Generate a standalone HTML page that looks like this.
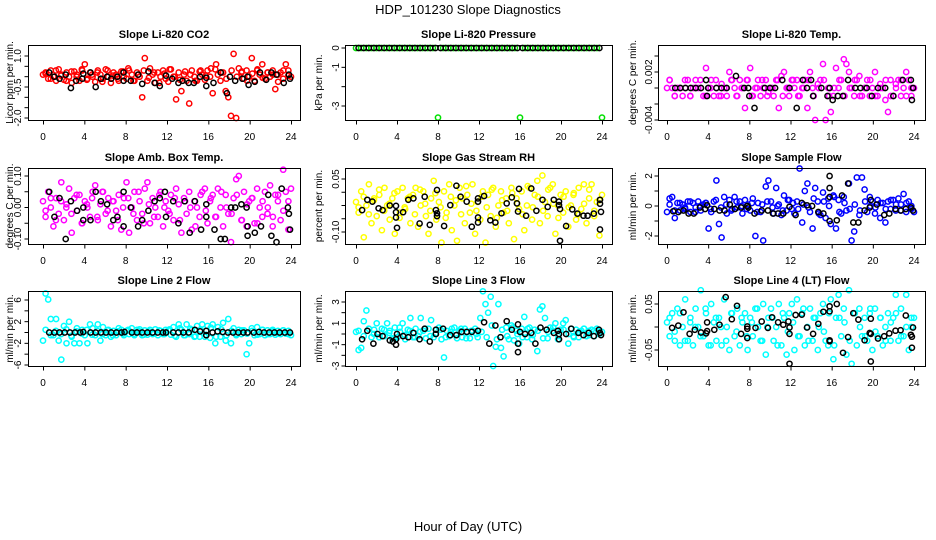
<!DOCTYPE html>
<html><head><meta charset="utf-8"><title>HDP_101230 Slope Diagnostics</title>
<style>
html,body{margin:0;padding:0;background:#fff;}
svg{display:block;font-family:"Liberation Sans",sans-serif;}
</style></head>
<body>
<svg id="chart" width="936" height="540" viewBox="0 0 936 540" xmlns="http://www.w3.org/2000/svg">
<rect x="0" y="0" width="936" height="540" fill="#fff"/>
<text x="468" y="14" text-anchor="middle" font-size="13">HDP_101230  Slope Diagnostics</text>
<text x="468" y="531" text-anchor="middle" font-size="13">Hour of Day (UTC)</text>
</svg>
<script>
// ---------- data ----------
const xTicks = [0,4,8,12,16,20,24];
const xTickLabels = ["0","4","8","12","16","20","24"];

// Panel 1: Li-820 CO2
const co2Vals = [0.1,0.2,-0.1,0.3,0.0,-0.2,0.35,0.1,-0.15,0.2,0.0,-0.3,0.25,0.1,-0.2,0.3,0.6,-0.1,0.2,0.0,-0.25,0.3,0.1,-0.1,0.35,0.0,-0.3,0.2,0.1,-0.2,0.25,0.0,-0.1,0.3,0.1,-0.2,0.2,0.0,-1.0,0.9,-0.2,0.4,0.1,-0.3,0.2,0.0,0.3,-0.1,-0.25,0.35,0.0,-1.1,0.2,-0.7,0.1,-0.2,-1.3,0.3,0.0,-0.2,0.25,0.1,-0.15,0.3,0.0,-0.8,0.35,0.1,-0.2,0.2,-0.7,-1.0,-1.9,1.1,-2.0,0.4,0.2,-0.1,0.3,0.0,0.9,-0.2,0.3,0.1,0.6,-0.1,0.2,0.0,0.3,-0.6,0.1,0.2,-0.1,0.6,0.3,0.0];
const co2Extra = [0.15,-0.1,0.3,0.05,-0.2,0.25,0.0,0.35,-0.15,0.1,0.2,-0.25,0.3,0.05,-0.1,0.25,0.4,-0.2,0.1,0.3,-0.05,0.2,-0.3,0.15,0.35,0.0,-0.15,0.25,0.1,-0.2,0.3,0.05,0.4,0.6,0.2,-0.1,0.3,0.0,0.25,-0.2,0.15,0.35,-0.05,0.2,0.1,-0.25,0.3,0.05];
const co2BlackX = [0.6,1.1,1.6,2.2,2.7,3.2,3.8,3.9,4.6,5.1,5.6,6.2,6.6,7.2,7.8,7.8,8.5,9.2,9.6,10.2,10.8,11.3,11.9,12.5,13.1,13.5,14.1,14.6,15.2,15.8,15.8,16.5,17.2,17.8,18.1,18.6,19.3,19.8,19.9,20.5,21.0,21.6,22.1,22.6,23.3,23.8,23.9];
const co2BlackY = [0.2,0,-0.1,0.1,-0.55,-0.2,-0.1,0.15,0.2,-0.5,-0.1,0.0,-0.1,0.0,0.2,-0.2,-0.2,0.1,-0.35,0.25,-0.3,-0.45,0.05,-0.1,-0.3,-0.2,-0.3,-0.3,0.0,-0.05,-0.45,-0.3,0.2,-0.8,0.0,-0.2,-0.1,0,-0.4,-0.25,0.2,-0.15,0.2,0.1,-0.3,0.1,-0.1];

// Panel 2: Li-820 Pressure
const presVals = [0,0,0,0,0,0,0,0,0,0,0,0,0,0,0,0,-3.6,0,0,0,0,0,0,0,0,0,0,0,0,0,0,0,-3.6,0,0,0,0,0,0,0,0,0,0,0,0,0,0,0,-3.6];
const presBlackVals = [0,0,0,0,0,0,0,0,0,0,0,0,0,0,0,0,0,0,0,0,0,0,0,0,0,0,0,0,0,0,0,0,0,0,0,0,0,0,0,0,0,0,0,0,0,0,0,0];

// Panel 3: Li-820 Temp
const tempVals = [0,0.001,0,-0.001,0,0,-0.001,0,0.001,-0.001,0,0.001,0,0,-0.001,0.0025,0,0.001,-0.001,0,-0.001,0.0005,0,-0.001,0.002,0.001,0,-0.001,0.001,0,-0.0025,0.001,0.0025,-0.001,0,0.001,-0.001,0,0.001,-0.0005,0,-0.001,0.001,-0.0025,0.0015,0.002,0,-0.001,0.001,0,0.001,-0.001,0,0.001,-0.0025,0.002,0,-0.004,0.0005,0.001,0.003,-0.004,0,-0.003,-0.001,0.0025,0,0.001,0.0036,0.003,0.002,0,-0.001,0.001,0.0015,-0.001,0,0.001,-0.001,0,0.002,-0.001,0.0005,0,-0.0015,-0.003,0.001,-0.001,0.0005,0.001,-0.001,0,0.002,0.001,-0.001,0];
const tempExtra = [0.001,-0.001,0,0.001,-0.001,0,0.001,-0.001,0,0.001,-0.001,0,0.001,-0.001,0,0.001,-0.001,0,0.001,-0.001,0,0.001,-0.001,0,0.001,-0.001,0,0.001,-0.001,0,0.001,-0.001,0,0.001,-0.001,0,0.001,-0.001,0,0.001,-0.001,0,0.001,-0.001,0,0.001,-0.001,0];
const tempBlackX = [0.8,1.3,1.8,2.3,2.8,3.3,3.8,3.9,4.0,4.8,5.3,5.8,6.7,7.5,7.9,8.0,8.5,9.5,10.0,10.5,11.2,11.9,12.6,13.2,13.6,14.0,14.2,15.0,15.6,15.8,16.1,16.6,17.1,17.6,18.3,18.8,19.4,19.9,20.5,21.2,22.0,22.9,23.7,23.8,23.9];
const tempBlackY = [0,0,0,0,0,0,0.001,-0.001,0,0,0,0,0.0015,0,0,-0.001,-0.0025,0,0,0,0.001,0,-0.0025,0.001,0,0.001,-0.001,0,-0.001,0,-0.0015,-0.001,-0.001,0.001,0,0,0,-0.001,0,0,-0.001,0.001,0.001,-0.0015,0];

// Panel 4: Amb. Box Temp
const boxVals = [0.02,-0.03,0.05,0.0,-0.06,0.03,-0.02,0.08,-0.04,0.01,0.06,-0.08,0.03,-0.01,0.04,-0.05,0.02,0.0,-0.03,0.05,0.07,-0.04,0.01,0.05,-0.02,0.03,-0.06,0.02,-0.01,0.04,-0.07,0.03,0.08,-0.08,0.0,0.05,-0.04,0.02,-0.02,0.06,0.08,-0.05,0.03,0.0,-0.03,0.05,-0.06,0.02,-0.01,0.04,-0.04,0.06,0.01,-0.08,0.03,-0.02,0.05,-0.07,0.02,0.0,-0.03,0.05,0.06,-0.05,0.02,0.04,-0.03,0.06,0.0,-0.06,0.04,-0.02,-0.11,0.03,0.09,0.1,-0.04,0.05,-0.06,0.02,0.03,-0.05,0.06,0.0,-0.03,0.05,-0.02,0.07,-0.06,0.04,0.02,-0.04,0.12,0.05,-0.07,0.06];
const boxExtra = [-0.01,0.03,-0.04,0.02,0.0,-0.02,0.04,-0.05,0.01,0.03,-0.03,0.05,-0.01,0.02,-0.04,0.0,0.03,-0.02,0.05,-0.05,0.01,-0.03,0.04,0.0,-0.02,0.03,-0.04,0.02,0.0,-0.06,0.04,-0.01,0.03,-0.03,0.05,0.0,-0.02,0.04,-0.04,0.01,0.03,-0.05,0.02,0.0,-0.03,0.04,-0.01,0.02];
const boxBlackX = [0.6,1.1,1.6,2.2,2.7,3.3,3.9,3.9,4.6,5.1,5.6,6.2,6.8,7.2,7.8,7.8,8.5,9.2,9.6,10.2,10.8,11.3,11.8,11.9,12.6,13.1,13.7,14.2,14.7,15.3,15.8,15.8,16.6,17.2,17.6,18.2,18.6,19.2,19.7,19.8,19.8,20.5,21.1,21.8,22.1,22.6,23.1,23.7,23.8,23.9];
const boxBlackY = [0.05,-0.03,0.03,-0.1,0.02,-0.01,0.0,-0.04,-0.04,0.05,0.02,0.01,-0.04,-0.03,0.05,-0.06,0,-0.06,-0.04,-0.01,0.02,0.03,0.05,-0.03,0.02,-0.05,0.02,-0.08,0.02,-0.07,0.01,-0.03,-0.07,-0.1,-0.1,0,0,0.01,0.0,-0.06,-0.09,-0.08,-0.06,0.04,-0.09,-0.11,0.06,0.0,-0.02,-0.07];

// Panel 5: Gas Stream RH
const rhVals = [-0.015,-0.045,0.015,-0.115,-0.025,0.035,-0.075,-0.005,-0.055,0.005,-0.095,0.025,-0.025,-0.065,-0.005,-0.105,0.015,-0.045,0.025,-0.035,-0.005,-0.075,0.005,0.025,-0.085,-0.025,0.015,-0.055,-0.105,-0.005,0.045,-0.065,-0.015,-0.13,0.015,-0.045,0.035,-0.095,-0.025,-0.125,0.025,-0.005,-0.075,0.005,-0.045,0.035,-0.105,-0.015,-0.065,0.015,-0.13,0.005,-0.055,0.025,-0.085,-0.025,0.015,-0.045,-0.005,-0.075,0.025,-0.12,-0.005,-0.035,0.015,-0.095,-0.025,0.025,-0.065,0.005,0.045,-0.075,0.06,-0.015,-0.055,0.025,0.035,-0.105,-0.025,0.005,-0.045,0.015,-0.085,-0.025,0.005,-0.065,0.025,-0.035,0.035,-0.075,-0.005,0.035,-0.055,-0.015,-0.11,0.005];
const rhExtra = [-0.03,0.0,-0.05,-0.01,0.02,-0.04,-0.02,0.01,-0.06,-0.03,0.0,-0.05,0.02,-0.02,-0.04,0.01,-0.03,-0.06,0.0,-0.01,-0.05,0.03,-0.02,-0.04,0.0,-0.03,0.02,-0.06,-0.01,-0.04,0.01,-0.02,-0.05,0.03,-0.03,0.0,-0.04,0.02,-0.02,-0.06,0.0,-0.03,0.01,-0.05,-0.02,0.02,-0.04,-0.01];
const rhBlackX = [0.6,1.1,1.6,2.2,2.6,3.3,3.9,3.9,3.9,4.0,4.6,5.1,5.6,6.2,6.7,7.2,7.8,7.9,7.9,7.9,8.6,9.2,9.8,10.2,10.8,11.3,11.9,11.9,11.9,11.9,12.5,13.1,13.6,14.2,14.7,15.2,15.7,15.8,15.9,16.6,17.1,17.6,18.2,18.7,19.3,19.8,19.8,19.9,19.9,20.5,21.1,21.6,22.2,22.6,23.2,23.8,23.8,23.9,23.8];
const rhBlackY = [-0.038,-0.009,-0.014,-0.033,-0.038,-0.025,-0.026,-0.044,-0.059,-0.088,-0.044,-0.009,-0.005,-0.076,0.0,-0.08,-0.038,-0.047,-0.055,0.019,-0.083,-0.024,0.031,0.0,-0.014,-0.085,-0.005,-0.014,-0.059,-0.073,0.002,-0.067,-0.073,-0.047,-0.019,-0.002,-0.019,-0.042,0.022,-0.054,0.023,-0.04,-0.009,-0.029,-0.009,-0.014,-0.024,-0.035,-0.125,-0.083,-0.036,-0.048,-0.054,-0.054,-0.048,-0.009,-0.02,-0.043,-0.093];

// Panel 6: Sample Flow
const sampleVals = [-0.4,0.5,0.6,-0.8,0.2,-0.3,0.1,-0.2,0.3,-0.4,0.2,-0.1,0.3,-0.3,0.1,0.2,-1.5,-0.4,0.3,1.7,-1.2,-2.1,0.6,-0.5,0.4,-0.2,0.6,-0.1,0.3,-0.5,0.4,0.1,-0.3,0.5,-2.0,0.2,-0.4,-2.3,1.3,1.7,0.3,-0.5,1.2,0.1,-0.6,0.7,-0.3,0.4,-0.2,-0.5,0.3,2.5,-1.1,1.0,1.5,-0.4,-1.5,1.2,0.3,-0.6,0.9,-0.8,0.5,-1.2,0.7,-1.5,0.4,-0.5,0.6,-0.3,1.5,-2.3,-1.7,1.9,-0.6,1.9,1.1,-0.4,0.6,0.3,-0.5,0.4,-0.8,0.2,-1.1,0.3,-0.2,0.4,-0.3,0.5,0.1,0.8,-0.4,0.3,-0.2,-0.4];
const sampleExtra = [0.1,-0.3,0.2,-0.1,0.3,-0.4,0.0,0.2,-0.2,0.4,-0.1,0.1,-0.3,0.3,0.0,-0.2,0.2,-0.4,0.1,0.3,-0.1,0.0,-0.3,0.4,0.2,-0.2,0.1,-0.1,0.5,-0.5,0.3,0.0,0.6,-0.4,0.2,-0.2,0.1,-0.3,0.3,0.0,-0.1,0.2,-0.2,0.4,0.1,-0.3,0.2,0.0];
const sampleBlackX = [0.6,1.1,1.6,2.1,2.6,3.2,3.7,3.9,4.6,5.1,5.6,6.1,6.6,7.2,7.8,7.9,8.5,9.2,9.8,10.3,10.8,11.3,11.9,12.5,13.1,13.6,14.1,14.7,15.2,15.8,15.8,15.8,15.8,16.5,17.0,17.6,18.1,18.6,19.2,19.7,19.8,20.4,21.1,21.6,22.2,22.7,23.2,23.7,23.9];
const sampleBlackY = [-0.35,-0.4,-0.3,-0.5,-0.5,-0.1,-0.2,0.05,-0.2,-0.3,-0.3,0.1,-0.2,-0.1,0.0,-0.1,-0.5,-0.3,-0.3,-0.5,-0.5,-0.5,-0.05,-0.6,0.2,0.05,0.0,-0.4,-0.5,2.0,1.2,0.6,-1.0,-0.95,0.7,1.5,-1.1,-1.1,-0.3,-0.1,0.4,0.1,-0.6,-0.5,-0.2,-0.3,-0.2,-0.1,-0.3];

// Panel 7: Line 2 Flow
const line2Vals = [-1.5,7.2,6.1,2.5,-0.5,2.5,-1.5,-5.0,1.2,-2.0,2.0,-0.8,-2.0,0.8,-2.0,0.5,-0.5,-2.0,1.5,0.8,-0.5,1.5,-1.5,1.0,-0.5,0.5,-0.8,0.3,-0.5,0.8,0.5,-0.5,0.3,-0.3,0.8,-0.5,0.5,0.6,-0.5,0.4,-0.4,0.5,-0.3,0.6,-0.5,0.3,-0.3,0.5,0.4,-0.4,1.0,-0.8,1.5,0.5,-0.5,1.5,-0.3,0.5,-0.8,1.2,-0.8,1.5,-0.8,1.2,-1.0,1.5,-2.0,1.0,-0.8,1.8,-1.5,2.5,-2.0,0.8,-0.5,0.5,-0.3,0.4,-4.0,-2.0,0.8,-0.5,1.0,-0.3,0.5,-0.5,0.4,-0.3,0.5,-0.4,0.3,-0.3,0.4,-0.2,0.3,-0.5];
const line2Extra = [0.5,-0.5,0.3,-0.3,0.6,-0.6,0.2,-0.2,0.5,-0.4,0.3,-0.3,0.4,-0.5,0.2,-0.2,0.5,-0.3,0.3,-0.4,0.2,-0.2,0.4,-0.3,0.6,-0.6,0.8,-0.5,0.7,-0.7,0.5,-0.4,0.9,-0.8,0.6,-0.5,0.3,-0.3,0.4,-0.2,0.3,-0.4,0.5,-0.3,0.2,-0.2,0.4,-0.3];
const line2BlackX = [0.6,1.1,1.6,2.1,2.6,3.1,3.6,3.9,4.6,5.1,5.6,6.1,6.6,7.1,7.6,7.9,8.6,9.1,9.6,10.1,10.6,11.1,11.6,11.9,12.6,13.1,13.6,14.1,14.7,15.2,15.8,15.8,16.4,16.9,17.4,17.9,18.4,18.9,19.4,19.8,20.4,20.9,21.4,21.9,22.4,22.9,23.4,23.9];
const line2BlackY = [0,0,0,0,0,0,0,0.1,0,0,0,0,0,0,0,0.1,0,0,0,0,0,0,0,0,0,0,0,0,0.5,0.2,0.3,-0.5,0,0.2,0.1,0,0,0,0,0,0,0.1,0,0,0,0,0,0];

// Panel 8: Line 3 Flow
const line3Vals = [0.2,-1.5,-1.3,1.2,2.2,0.5,-0.3,0.4,1.0,-0.3,0.5,-0.2,1.0,0.3,-0.4,0.6,-0.3,0.2,1.0,-0.5,0.4,1.5,-0.3,0.5,-0.2,1.5,0.3,-0.4,0.5,1.3,-0.3,0.4,0.6,-0.5,-2.2,0.3,-0.2,0.5,0.6,-0.4,0.3,-0.3,0.5,0.2,-0.4,0.3,0.5,-0.3,1.5,4.0,2.8,2.0,3.5,-3.0,-1.2,2.8,-1.3,-2.1,0.6,-0.5,0.8,-0.6,0.3,-0.9,0.5,1.6,-0.3,0.6,-0.5,0.4,-1.6,2.3,2.6,1.5,-0.4,0.6,0.3,1.0,-0.5,0.4,1.0,1.3,-0.9,0.5,-0.2,0.4,-0.3,0.3,0.5,-0.2,0.3,0.4,-0.2,0.5,0.3,0.2];
const line3Extra = [0.3,-0.2,0.5,0.0,-0.3,0.4,0.1,-0.4,0.6,-0.1,0.3,-0.3,0.2,0.5,-0.2,0.0,0.4,-0.3,0.2,-0.1,0.5,-0.4,0.3,0.0,0.2,-0.3,0.8,-0.5,0.4,-0.2,0.6,0.0,-0.3,0.5,-0.1,0.3,-0.4,0.2,0.6,-0.2,0.4,0.0,-0.3,0.2,0.5,-0.1,0.3,0.0];
const line3BlackX = [0.6,1.1,1.7,2.1,2.6,3.3,3.6,3.9,3.9,4.0,4.6,5.1,5.6,6.2,6.7,7.2,7.8,7.8,8.5,9.2,9.8,10.3,10.8,11.3,11.9,12.5,13.0,13.6,14.1,14.7,15.2,15.8,15.8,15.8,16.0,16.5,17.1,17.5,18.0,18.6,19.3,19.7,19.8,19.8,20.5,21.0,21.7,22.2,22.7,23.2,23.7,23.8,23.9];
const line3BlackY = [-0.5,0.3,-0.9,0,-0.2,-0.6,-0.7,-1.0,-0.5,0,-0.2,-0.3,0.1,-0.5,0.5,-0.7,0.4,0.0,0.5,-0.1,-0.1,0.2,0.2,0.2,0.3,1.1,-0.9,0.8,-0.3,1.2,0.4,0.9,-0.9,-1.7,0.2,0.0,0.1,-0.9,0.6,0.4,0.1,0.3,-0.5,0.0,0.0,0.5,0.1,-0.1,0.1,-0.2,0.4,0.1,-0.1];

// Panel 9: Line 4 (LT) Flow
const line4Vals = [0.01,-0.02,0.03,-0.03,0.04,-0.04,0.0,0.06,-0.03,0.02,-0.04,0.04,0.0,0.08,-0.02,0.03,-0.04,0.05,0.01,-0.03,0.02,-0.04,0.06,0.0,-0.05,0.03,-0.02,0.04,-0.04,0.01,0.03,-0.05,0.02,-0.02,0.04,0.0,-0.03,0.05,-0.06,0.02,0.04,-0.03,0.0,0.05,-0.04,0.02,-0.06,0.03,0.05,-0.05,0.06,-0.02,0.03,-0.04,0.0,0.04,-0.03,0.02,-0.05,0.03,0.05,-0.03,-0.04,0.06,-0.07,0.02,0.07,-0.02,0.04,-0.06,0.08,-0.08,0.03,-0.04,0.04,-0.02,0.02,-0.03,0.03,-0.05,0.04,-0.02,0.02,-0.04,0.0,0.03,-0.03,0.02,0.07,-0.03,0.04,-0.02,0.07,-0.05,0.0,0.02];
const line4Extra = [0.02,-0.01,0.03,-0.03,0.01,0.0,-0.02,0.04,-0.04,0.02,0.0,-0.03,0.03,-0.01,0.02,-0.02,0.01,0.04,-0.03,0.0,0.02,-0.04,0.03,-0.01,0.01,-0.02,0.04,-0.03,0.02,0.0,-0.01,0.03,-0.04,0.02,0.01,-0.03,0.03,0.0,-0.02,0.04,-0.01,0.02,-0.03,0.01,0.03,-0.02,0.0,0.02];
const line4BlackX = [0.5,1.1,1.6,2.2,2.7,3.3,3.8,3.9,3.9,4.6,5.1,5.7,6.3,6.8,7.2,7.8,7.8,7.8,8.6,9.2,9.8,10.2,10.8,11.3,11.8,11.9,11.9,11.9,12.5,13.1,13.6,14.2,14.7,15.2,15.8,15.8,15.8,15.8,16.5,17.1,17.6,18.1,18.6,19.2,19.7,19.8,19.8,19.8,20.5,21.1,21.6,22.2,22.7,23.2,23.7,23.8,23.8,23.9];
const line4BlackY = [-0.002,0.003,0.032,-0.015,-0.006,-0.012,-0.014,-0.009,0.010,-0.006,0.005,0.065,0.017,0.046,-0.015,0.001,-0.004,-0.024,-0.002,0.012,-0.002,0.021,0.010,0.005,0.012,-0.001,-0.015,-0.08,0.026,0.027,-0.001,-0.015,0.007,0.033,0.034,0.045,-0.029,-0.031,0.05,-0.056,-0.022,0.030,0.016,-0.029,-0.013,0.018,-0.015,-0.075,-0.025,-0.020,-0.014,-0.008,-0.007,0.025,-0.017,-0.021,-0.045,-0.001];

// ---------- layout ----------
const cols = [{l:28,r:300,x0:43,x24:291,tlOff:7,ylOff:15},{l:345,r:612,x0:356,x24:602,tlOff:6,ylOff:23},{l:658,r:925,x0:667,x24:914,tlOff:6,ylOff:22}];
const rows = [{t:45,b:120},{t:168,b:244},{t:291,b:366}];

const panels = [
 {name:"co2",title:"Slope Li-820 CO2",ylab:"Licor ppm per min.",c:0,r:0,color:"#ff0000",vals:co2Vals,extra:co2Extra,bx:co2BlackX,by:co2BlackY,ref:[1.0,56,-2.0,118],ticks:[1,0.5,0,-0.5,-1,-1.5,-2],tl:["1.0","","","-0.5","","","-2.0"]},
 {name:"pressure",title:"Slope Li-820 Pressure",ylab:"kPa per min.",c:1,r:0,color:"#00e000",vals:presVals,bvals:presBlackVals,ref:[0,48,-3,106],ticks:[0,-1,-2,-3],tl:["0","-1","","-3"]},
 {name:"temp",title:"Slope Li-820 Temp.",ylab:"degrees C per min.",c:2,r:0,color:"#ff00ff",vals:tempVals,extra:tempExtra,bx:tempBlackX,by:tempBlackY,ref:[0.002,72,-0.004,120],ticks:[0.004,0.002,0,-0.002,-0.004],tl:["","0.002","","","-0.004"]},
 {name:"amb-box-temp",title:"Slope Amb. Box Temp.",ylab:"degrees C per min.",c:0,r:1,color:"#ff00ff",vals:boxVals,extra:boxExtra,bx:boxBlackX,by:boxBlackY,ref:[0.10,176,-0.10,239],ticks:[0.10,0.05,0,-0.05,-0.10],tl:["0.10","","0.00","","-0.10"]},
 {name:"gas-rh",title:"Slope Gas Stream RH",ylab:"percent per min.",c:1,r:1,color:"#ffff00",vals:rhVals,extra:rhExtra,bx:rhBlackX,by:rhBlackY,ref:[0.05,179,-0.10,232],ticks:[0.05,0.0125,-0.025,-0.0625,-0.10],tl:["0.05","","","","-0.10"]},
 {name:"sample-flow",title:"Slope Sample Flow",ylab:"ml/min per min.",c:2,r:1,color:"#0000ff",vals:sampleVals,extra:sampleExtra,bx:sampleBlackX,by:sampleBlackY,ref:[2,176,-2,236],ticks:[2,1,0,-1,-2],tl:["2","","0","","-2"]},
 {name:"line2-flow",title:"Slope Line 2 Flow",ylab:"ml/min per min.",c:0,r:2,color:"#00ffff",vals:line2Vals,extra:line2Extra,bx:line2BlackX,by:line2BlackY,ref:[6,300,-6,365],ticks:[6,4,2,0,-2,-4,-6],tl:["6","","2","","-2","","-6"]},
 {name:"line3-flow",title:"Slope Line 3 Flow",ylab:"ml/min per min.",c:1,r:2,color:"#00ffff",vals:line3Vals,extra:line3Extra,bx:line3BlackX,by:line3BlackY,ref:[3,302,-3,366],ticks:[3,2,1,0,-1,-2,-3],tl:["3","","1","","-1","","-3"]},
 {name:"line4-flow",title:"Slope Line 4 (LT) Flow",ylab:"ml/min per min.",c:2,r:2,color:"#00ffff",vals:line4Vals,extra:line4Extra,bx:line4BlackX,by:line4BlackY,ref:[0.05,304,-0.05,350],ticks:[0.05,0,-0.05],tl:["0.05","","-0.05"]}
];

const NS = "http://www.w3.org/2000/svg";
const svg = document.getElementById("chart");
function mk(tag, attrs, parent){
  const e = document.createElementNS(NS, tag);
  for (const k in attrs) e.setAttribute(k, attrs[k]);
  (parent||svg).appendChild(e);
  return e;
}

panels.forEach(p => {
  const col = cols[p.c], row = rows[p.r];
  const xs = h => col.x0 + (col.x24 - col.x0) * h / 24;
  const ys = v => p.ref[1] + (v - p.ref[0]) * (p.ref[3] - p.ref[1]) / (p.ref[2] - p.ref[0]);
  const g = mk("g", {});
  
  

  const t = mk("text", {x:(col.l+col.r)/2, y:row.t-7, "text-anchor":"middle", "font-size":"11", "font-weight":"bold"}, g);
  t.textContent = p.title;
  
  

  const sg = mk("g", {fill:"none", stroke:p.color, "stroke-width":"1.5"}, g);
  
  
  const n = p.vals.length;
  p.vals.forEach((v, i) => {
    const hr = 24 * i / (n - 1);
    const c = mk("circle", {cx:xs(hr).toFixed(1), cy:ys(v).toFixed(1), r:"2.6"}, sg);
    
    
  });
  if (p.extra) {
    const ne = p.extra.length;
    p.extra.forEach((v, i) => {
      const hr = 24 * (i + 0.5) / ne;
      const c = mk("circle", {cx:xs(hr).toFixed(1), cy:ys(v).toFixed(1), r:"2.6"}, sg);
      
      
    });
  }
  const bg = mk("g", {fill:"none", stroke:"#000", "stroke-width":"1.5"}, g);
  
  
  if (p.bvals) {
    const m = p.bvals.length;
    p.bvals.forEach((v, i) => {
      const hr = 0.25 + 23.5 * i / (m - 1);
      const c = mk("circle", {cx:xs(hr).toFixed(1), cy:ys(v).toFixed(1), r:"2.6"}, bg);
      
      
    });
  } else {
    const m = Math.min(p.bx.length, p.by.length);
    for (let i = 0; i < m; i++) {
      const c = mk("circle", {cx:xs(p.bx[i]).toFixed(1), cy:ys(p.by[i]).toFixed(1), r:"2.6"}, bg);
      
      
    }
  }

  const fr = mk("rect", {x:col.l+0.5, y:row.t+0.5, width:col.r-col.l, height:row.b-row.t, fill:"none", stroke:"#000", "stroke-width":"1"}, g);
  
  

  const xa = mk("g", {"font-size":"10"}, g);
  
  
  xTicks.forEach((h, i) => {
    mk("line", {x1:xs(h)+0.5, x2:xs(h)+0.5, y1:row.b+0.5, y2:row.b+4.5, stroke:"#000"}, xa);
    const tl = mk("text", {x:xs(h), y:row.b+20, "text-anchor":"middle"}, xa);
    tl.textContent = xTickLabels[i];
    
    
  });

  const ya = mk("g", {"font-size":"10"}, g);
  
  
  const ax = col.l + 0.5;
  p.ticks.forEach((v, i) => {
    const y = ys(v);
    mk("line", {x1:ax, x2:ax-4, y1:y, y2:y, stroke:"#000"}, ya);
    if (p.tl[i]) {
      const lx = col.l - col.tlOff;
      const tl = mk("text", {x:lx, y:y, "text-anchor":"middle", transform:`rotate(-90 ${lx} ${y})`}, ya);
      tl.textContent = p.tl[i];
      
      
    }
  });
  const yx = col.l - col.ylOff, yy = (row.t + row.b) / 2;
  const yl = mk("text", {x:yx, y:yy, "text-anchor":"middle", "font-size":"10", transform:`rotate(-90 ${yx} ${yy})`}, g);
  yl.textContent = p.ylab;
  
  
});
</script>
</body></html>
